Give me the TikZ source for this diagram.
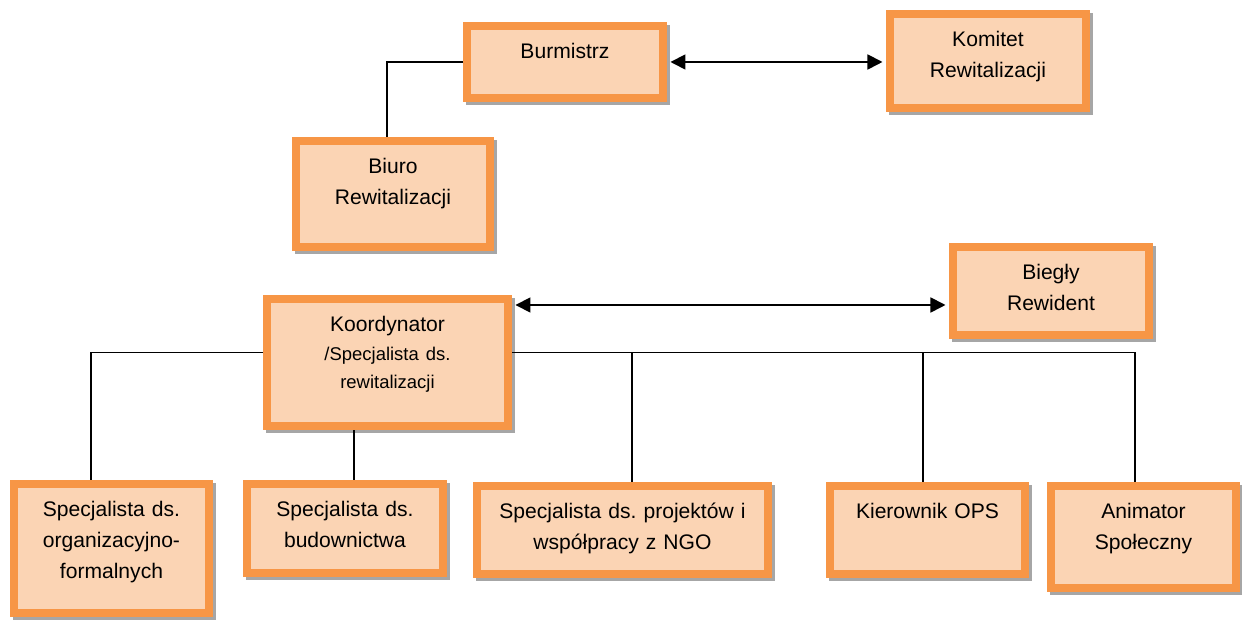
\documentclass[tikz,border=0pt]{standalone}
\usepackage{fontspec}
\setmainfont{Liberation Sans}
\usetikzlibrary{arrows.meta}

\begin{document}
\frenchspacing
\begin{tikzpicture}[x=.02cm,y=-.02cm,>={Triangle[length=.3cm,width=.3cm]}]
\tikzset{
  unit/.style={draw=unitorange, fill=unitfill, line width=.16cm, inner sep=0pt,
    anchor=north west, align=center, text height=.66cm,
    font=\fontsize{12}{17.5}\selectfont,
    preaction={draw=unitshadow, fill=unitshadow, transform canvas={xshift=.06cm, yshift=-.06cm}}},
  link/.style={draw=black, line width=1pt},
  both/.style={link, <->, shorten <=2pt, shorten >=2pt}
}

\definecolor{unitorange}{RGB}{247,150,70}
\definecolor{unitfill}{RGB}{251,212,180}
\definecolor{unitshadow}{RGB}{166,166,166}

\useasboundingbox (0,0) rectangle (1242,621);

% top level
\node[unit, text width=3.92cm, text depth=.78cm] (burm) at (463,22) {Burmistrz};
\node[unit, text width=3.92cm, text depth=1.22cm] (kom) at (886,10) {Komitet\\Rewitalizacji};
\node[unit, text width=3.88cm, text depth=1.46cm] (biuro) at (292,137) {Biuro\\Rewitalizacji};

% coordinator
\node[unit, text width=4.82cm, text depth=1.88cm, font=\fontsize{12}{16}\selectfont] (koord) at (263,295)
  {Koordynator\\\fontsize{10.5}{16}\selectfont/Specjalista ds.\\rewitalizacji};
\node[unit, text width=3.92cm, text depth=1.10cm] (bieg) at (949,243) {Biegły\\Rewident};

% staff
\node[unit, text width=3.90cm, text depth=1.92cm] (org) at (10,480) {Specjalista ds.\\organizacyjno-\\formalnych};
\node[unit, text width=3.92cm, text depth=1.12cm] (bud) at (243,480) {Specjalista ds.\\budownictwa};
\node[unit, text width=5.82cm, text depth=1.10cm] (proj) at (473,482) {Specjalista ds. projektów i\\współpracy z NGO};
\node[unit, text width=3.90cm, text depth=1.10cm] (ops) at (826,482) {Kierownik OPS};
\node[unit, text width=3.70cm, text depth=1.38cm] (anim) at (1047,482) {Animator\\Społeczny};

\coordinate (kb) at ([yshift=-.2cm]koord.north east);
\coordinate (bus) at ([yshift=.2cm]koord.east);
\coordinate (orgtop) at ([xshift=-.41cm]org.north);
\coordinate (budtop) at ([xshift=.18cm]bud.north);
\coordinate (projtop) at ([xshift=.19cm]proj.north);
\coordinate (opstop) at ([xshift=-.09cm]ops.north);
\coordinate (animtop) at ([xshift=-.17cm]anim.north);

\draw[link] (burm.west) -| ([xshift=-.12cm]biuro.north);
\draw[both] (burm.east) -- (burm.east -| kom.west);
\draw[both] (kb) -- (kb -| bieg.west);

\draw[link] (bus -| koord.west) -| (orgtop);
\draw[link] (budtop) -- (budtop |- koord.south);
\draw[link] (bus) -| (animtop);
\draw[link] (projtop) -- (projtop |- bus);
\draw[link] (opstop) -- (opstop |- bus);
\end{tikzpicture}
\end{document}
